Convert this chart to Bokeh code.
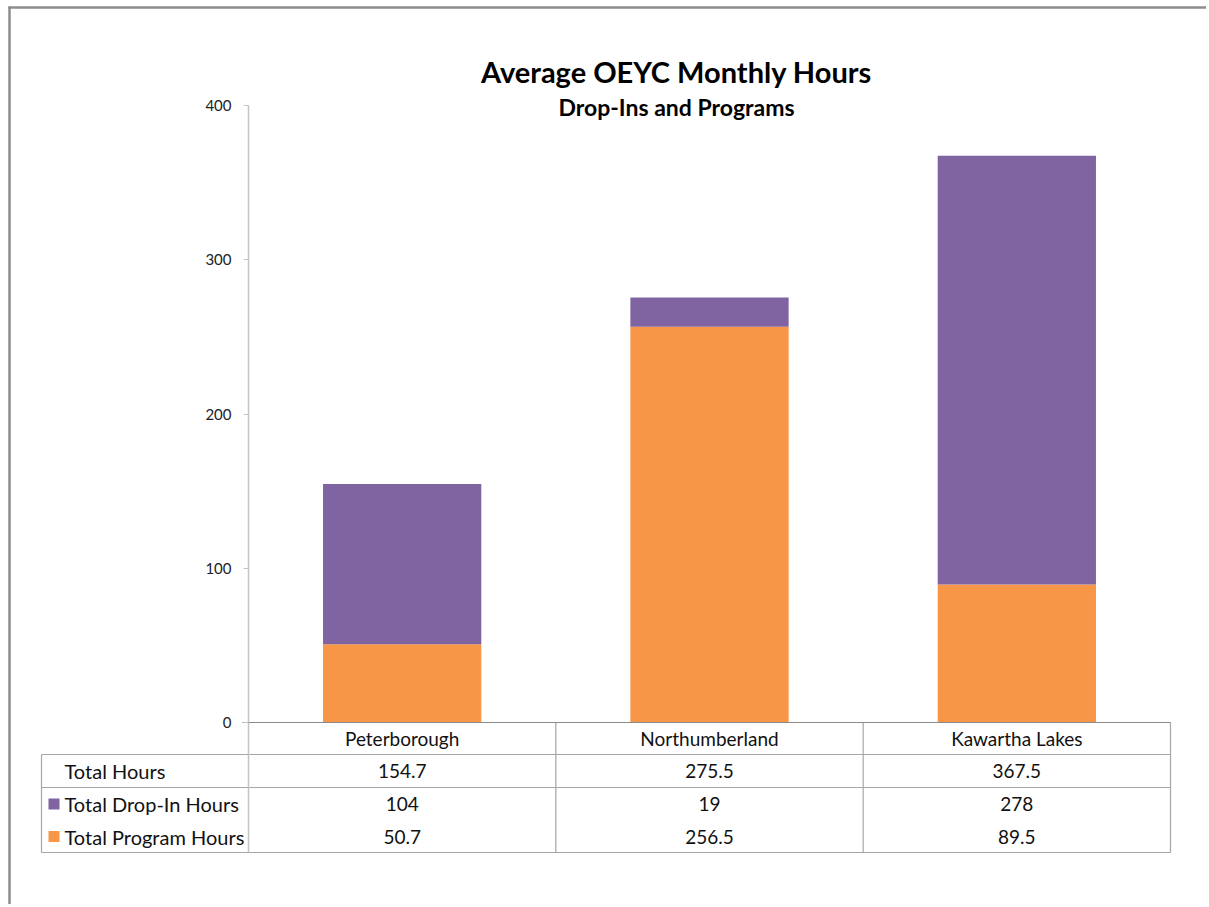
from bokeh.plotting import figure
from bokeh.models import Range1d, LinearAxis, FixedTicker, Label, ColumnDataSource
from bokeh.embed import file_html
from bokeh.resources import INLINE
from bokeh.core.properties import value

# ---------------- data ----------------
categories = ["Peterborough", "Northumberland", "Kawartha Lakes"]
drop_in_hours = [104, 19, 278]
program_hours = [50.7, 256.5, 89.5]
series_names = ["Total Drop-In Hours", "Total Program Hours"]
total_label = "Total Hours"
y_ticks = [0, 100, 200, 300, 400]
title_text = "Average OEYC Monthly Hours"
subtitle_text = "Drop-Ins and Programs"

# ---------------- style / layout ----------------
PURPLE = "#8064A2"
ORANGE = "#F79646"
GRID = "#A6A6A6"
FONT = "Lato"
TXT = "#111111"

W, H = 1206, 904
FL, FR, FT, F0 = 248, 1170, 105, 722           # canvas px: plot left/right/top, zero line
TL = 41                                         # table left edge
ROW_TOPS = [722, 754, 787, 820, 852]            # table row boundaries (px)

n = len(categories)
ymax = y_ticks[-1]


def dx(px):
    return (px - FL) / (FR - FL) * n


def dy(py):
    return (F0 - py) / (F0 - FT) * ymax


p = figure(width=W, height=H, x_range=Range1d(dx(0), dx(W)), y_range=Range1d(dy(H), dy(0)),
           output_backend="svg", toolbar_location=None,
           x_axis_location=None, y_axis_location=None,
           min_border=0, min_border_left=0, min_border_right=0,
           min_border_top=0, min_border_bottom=0)
p.outline_line_color = None
p.grid.visible = False
p.background_fill_color = "white"
p.border_fill_color = "white"

yax = LinearAxis(ticker=FixedTicker(ticks=y_ticks), bounds=(0, ymax), fixed_location=0)
yax.axis_line_color = "#C4C4C4"
yax.axis_line_width = 1.5
yax.major_tick_line_color = "#C4C4C4"
yax.major_tick_out = 5
yax.major_tick_in = 0
yax.minor_tick_line_color = None
yax.major_label_text_font = FONT
yax.major_label_text_font_size = "15px"
yax.major_label_text_color = "#222222"
yax.major_label_standoff = 12
p.add_layout(yax, "left")

xs = [i + 0.5 for i in range(n)]
totals = [round(a + b, 1) for a, b in zip(drop_in_hours, program_hours)]


def fmt(v):
    return ("%.1f" % v).rstrip("0").rstrip(".")


src = ColumnDataSource(dict(x=xs, prog=program_hours, drop=drop_in_hours, cat=categories,
                            tot=[fmt(v) for v in totals],
                            dtxt=[fmt(v) for v in drop_in_hours],
                            ptxt=[fmt(v) for v in program_hours]))

p.vbar_stack(["prog", "drop"], x="x", width=0.515, color=[ORANGE, PURPLE], line_color=None,
             source=src)

# ---------------- data table ----------------
# horizontal rules
hy = [dy(ROW_TOPS[1]), dy(ROW_TOPS[2]), dy(ROW_TOPS[4])]
p.segment(x0=[dx(TL)] * 3, y0=hy, x1=[n] * 3, y1=hy, line_color=GRID, line_width=1.2)
# vertical rules
vx = list(range(1, n + 1))
p.segment(x0=vx, y0=[dy(ROW_TOPS[0])] * n, x1=vx, y1=[dy(ROW_TOPS[4])] * n,
          line_color=GRID, line_width=1.2)
p.segment(x0=[0], y0=[0], x1=[0], y1=[dy(ROW_TOPS[4])], line_color="#C4C4C4", line_width=1.5)
p.segment(x0=[dx(TL)], y0=[dy(ROW_TOPS[1])], x1=[dx(TL)], y1=[dy(ROW_TOPS[4])],
          line_color=GRID, line_width=1.2)
# category (zero) axis line
p.segment(x0=[dx(FL - 6)], y0=[0], x1=[n], y1=[0], line_color="#8A8A8A", line_width=1.2)

row_mid = [(ROW_TOPS[i] + ROW_TOPS[i + 1]) / 2 for i in range(4)]
tkw = dict(text_font=value(FONT), text_font_size="19px", text_color=TXT,
           text_align="center", text_baseline="middle", source=src)
p.text(x="x", y=dy(row_mid[0]), text="cat", **tkw)
p.text(x="x", y=dy(row_mid[1]), text="tot", **tkw)
p.text(x="x", y=dy(row_mid[2]), text="dtxt", **tkw)
p.text(x="x", y=dy(row_mid[3]), text="ptxt", **tkw)

row_labels = [total_label] + series_names
p.text(x=[dx(64)] * 3, y=[dy(v) for v in row_mid[1:]], text=row_labels,
       text_font=value(FONT), text_font_size="20px", text_color=TXT,
       text_align="left", text_baseline="middle")
legend_colors = [PURPLE, ORANGE]
p.quad(left=[dx(48)] * 2, right=[dx(59)] * 2,
       top=[dy(v - 5.5) for v in row_mid[2:]], bottom=[dy(v + 5.5) for v in row_mid[2:]],
       fill_color=legend_colors, line_color=None)

# ---------------- titles ----------------
p.add_layout(Label(x=dx(676), y=dy(71), text=title_text, text_font=FONT, text_font_size="29px",
                   text_font_style="bold", text_color="#000000", text_align="center",
                   text_baseline="middle"))
p.add_layout(Label(x=dx(676), y=dy(106), text=subtitle_text, text_font=FONT,
                   text_font_size="23px", text_font_style="bold", text_color="#000000",
                   text_align="center", text_baseline="middle"))

# ---------------- outer chart border ----------------
p.segment(x0=[dx(9), dx(8)], y0=[dy(6), dy(7)], x1=[dx(9), dx(W + 20)], y1=[dy(H + 20), dy(7)],
          line_color="#8C8C8C", line_width=2.5)

open("out.html", "w").write(file_html(p, INLINE))
